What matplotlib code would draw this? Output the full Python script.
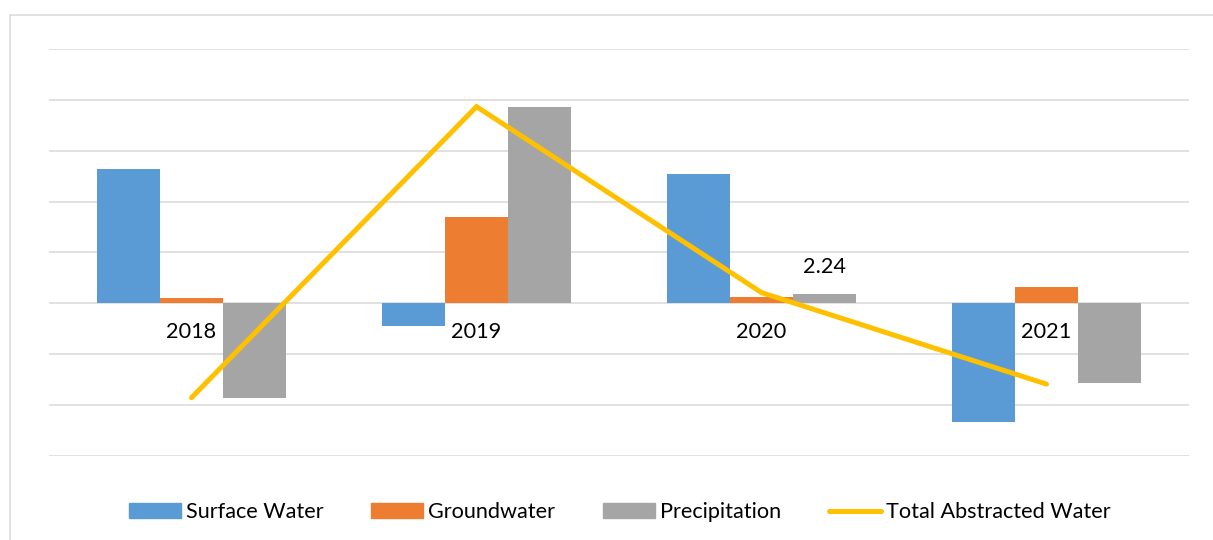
import matplotlib
matplotlib.use("Agg")
import matplotlib.pyplot as plt
import numpy as np
from matplotlib.patches import Rectangle
from matplotlib.lines import Line2D
from matplotlib.patches import Patch

plt.rcParams['font.family'] = ['Lato', 'DejaVu Sans']

categories = ['2018', '2019', '2020', '2021']
surface_water = [31.7, -5.3, 30.4, -28.0]
groundwater = [1.3, 20.4, 1.5, 3.9]
precipitation = [-22.3, 46.4, 2.24, -18.9]
total_abstracted = [-22.3, 46.4, 2.5, -19.1]
series_names = ['Surface Water', 'Groundwater', 'Precipitation', 'Total Abstracted Water']

c_blue = '#5B9BD5'
c_orange = '#ED7D31'
c_grey = '#A5A5A5'
c_line = '#FFC000'
c_grid = '#D9D9D9'

W, H = 1213, 540
fs = 15.6
fig = plt.figure(figsize=(W / 100, H / 100), dpi=100)
ax = fig.add_axes([49 / W, 1 - 455.7 / H, (1189 - 49) / W, (455.7 - 49) / H])

x = np.arange(len(categories))
bw = 0.222
ax.bar(x - bw, surface_water, bw, color=c_blue, zorder=2)
ax.bar(x, groundwater, bw, color=c_orange, zorder=2)
ax.bar(x + bw, precipitation, bw, color=c_grey, zorder=2)
ax.plot(x, total_abstracted, color=c_line, lw=3.6, solid_capstyle='round',
        solid_joinstyle='miter', zorder=4)

ax.set_xlim(-0.5, len(categories) - 0.5)
ax.set_ylim(-36, 60)
ax.set_yticks(np.arange(-36, 61, 12))
ax.yaxis.grid(True, color=c_grid, lw=1.1, zorder=0)
ax.set_axisbelow(True)
ax.tick_params(left=False, bottom=False, labelleft=False, labelbottom=False)
for s in ax.spines.values():
    s.set_visible(False)

for xi, lab in zip(x, categories):
    ax.annotate(lab, (xi, 0), xytext=(0, -21), textcoords='offset points',
                ha='center', va='center', fontsize=fs, color='#000000', zorder=5)

# data label on 2020 precipitation
ax.annotate(f"{precipitation[2]:.2f}", (x[2] + bw, precipitation[2]), xytext=(0, 19),
            textcoords='offset points', ha='center', va='center', fontsize=fs,
            color='#000000', zorder=5)

handles = [Patch(color=c_blue), Patch(color=c_orange), Patch(color=c_grey),
           Line2D([0], [0], color=c_line, lw=3.6, solid_capstyle='round')]
leg = fig.legend(handles, series_names, loc='center', bbox_to_anchor=(619.5 / W, 1 - 512 / H),
                 ncol=4, frameon=False, fontsize=fs, handlelength=2.4, handleheight=0.65,
                 handletextpad=0.23, columnspacing=2.2)

border = Rectangle((10 / W, -0.2), 1.2, 1.2 - 15 / H, transform=fig.transFigure,
                   fill=False, edgecolor=c_grid, lw=1.1)
fig.add_artist(border)

fig.savefig('out.png', dpi=100, facecolor='white')
